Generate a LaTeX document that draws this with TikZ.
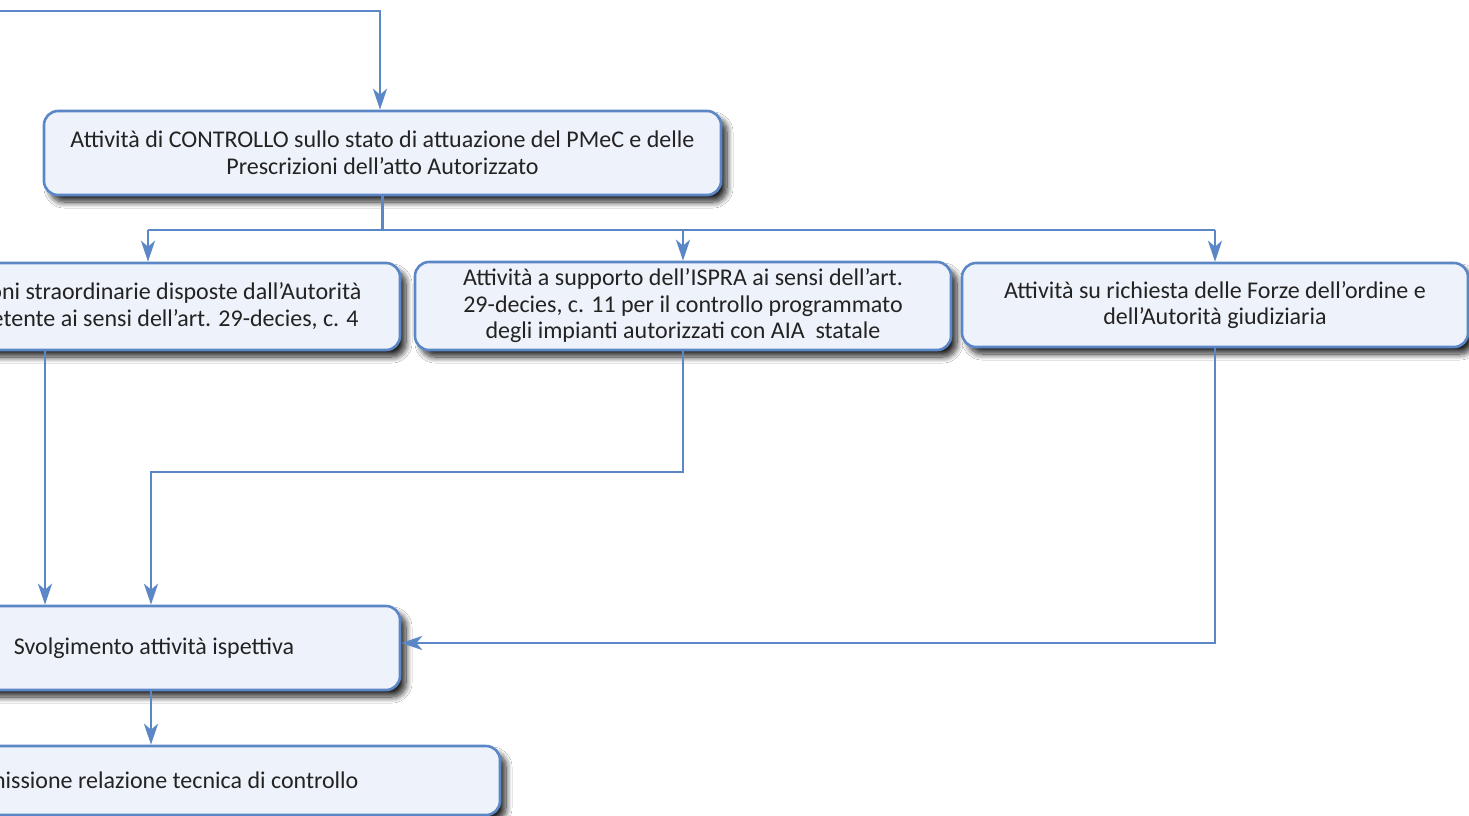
\documentclass[tikz,border=0pt]{standalone}
\usepackage{fontspec}
\setmainfont{Carlito}
\usetikzlibrary{arrows.meta,shadows.blur}
\definecolor{boxline}{RGB}{91,135,199}
\definecolor{boxfill}{RGB}{238,242,250}
\definecolor{txt}{RGB}{35,35,35}
\tikzset{
 flowbox/.style={draw=boxline, fill=boxfill, line width=2.6pt, rounded corners=14pt,
   align=center, text=txt, font=\fontsize{24}{26.5}\selectfont, inner sep=0pt,
   blur shadow={shadow xshift=6pt, shadow yshift=-7pt, shadow blur steps=12,
   shadow blur radius=6pt, shadow blur extra rounding=3pt, shadow opacity=85}},
 conn/.style={draw=boxline, line width=2.6pt, -{Stealth[length=21pt,width=14pt,inset=6pt]}},
 wire/.style={draw=boxline, line width=2.6pt}
}
\begin{document}
\begin{tikzpicture}[x=1pt,y=-1pt]
\useasboundingbox (0,0) rectangle (1469,816);
\clip (0,0) rectangle (1469,816);
\fill[white] (0,0) rectangle (1469,816);

\node[flowbox, minimum width=677pt, minimum height=84pt] (top) at (382.5,153)
  {Attività di CONTROLLO sullo stato di attuazione del PMeC e delle\\Prescrizioni dell’atto Autorizzato};
\node[flowbox, minimum width=504pt, minimum height=87pt] (l1) at (148,306.5)
  {Ispezioni straordinarie disposte dall’Autorità\\competente ai sensi dell’art. 29-decies, c. 4};
\node[flowbox, minimum width=536pt, minimum height=88pt] (mid) at (683,306)
  {Attività a supporto dell’ISPRA ai sensi dell’art.\\29-decies, c. 11 per il controllo programmato\\degli impianti autorizzati con AIA~ statale};
\node[flowbox, minimum width=506pt, minimum height=84pt] (rt) at (1215,305)
  {Attività su richiesta delle Forze dell’ordine e\\dell’Autorità giudiziaria};
\node[flowbox, minimum width=498pt, minimum height=84pt] (sv) at (151,648)
  {\hspace*{6pt}Svolgimento attività ispettiva};
\node[flowbox, minimum width=694pt, minimum height=69pt] (bt) at (153,780.5)
  {Trasmissione relazione tecnica di controllo};

\coordinate (start) at (-20,11);
\coordinate (split) at (381,230);
\coordinate (bend) at (683,472);

\draw[conn] (start) -| ([xshift=-2.5pt]top.north);
\draw[wire] (top.south) -- (top.south |- split);
\draw[wire] (l1.north |- split) -- (rt.north |- split);
\draw[conn] (l1.north |- split) -- (l1.north);
\draw[conn] (mid.north |- split) -- (mid.north);
\draw[conn] (rt.north |- split) -- (rt.north);

\draw[conn] ([xshift=-103pt]l1.south) -- ([xshift=-103pt]l1.south |- sv.north);
\draw[conn] (mid.south) -- (mid.south |- bend) -| (sv.north);
\draw[conn] (rt.south) |- ([yshift=5pt]sv.east);
\draw[conn] (sv.south) -- (sv.south |- bt.north);
\end{tikzpicture}
\end{document}
